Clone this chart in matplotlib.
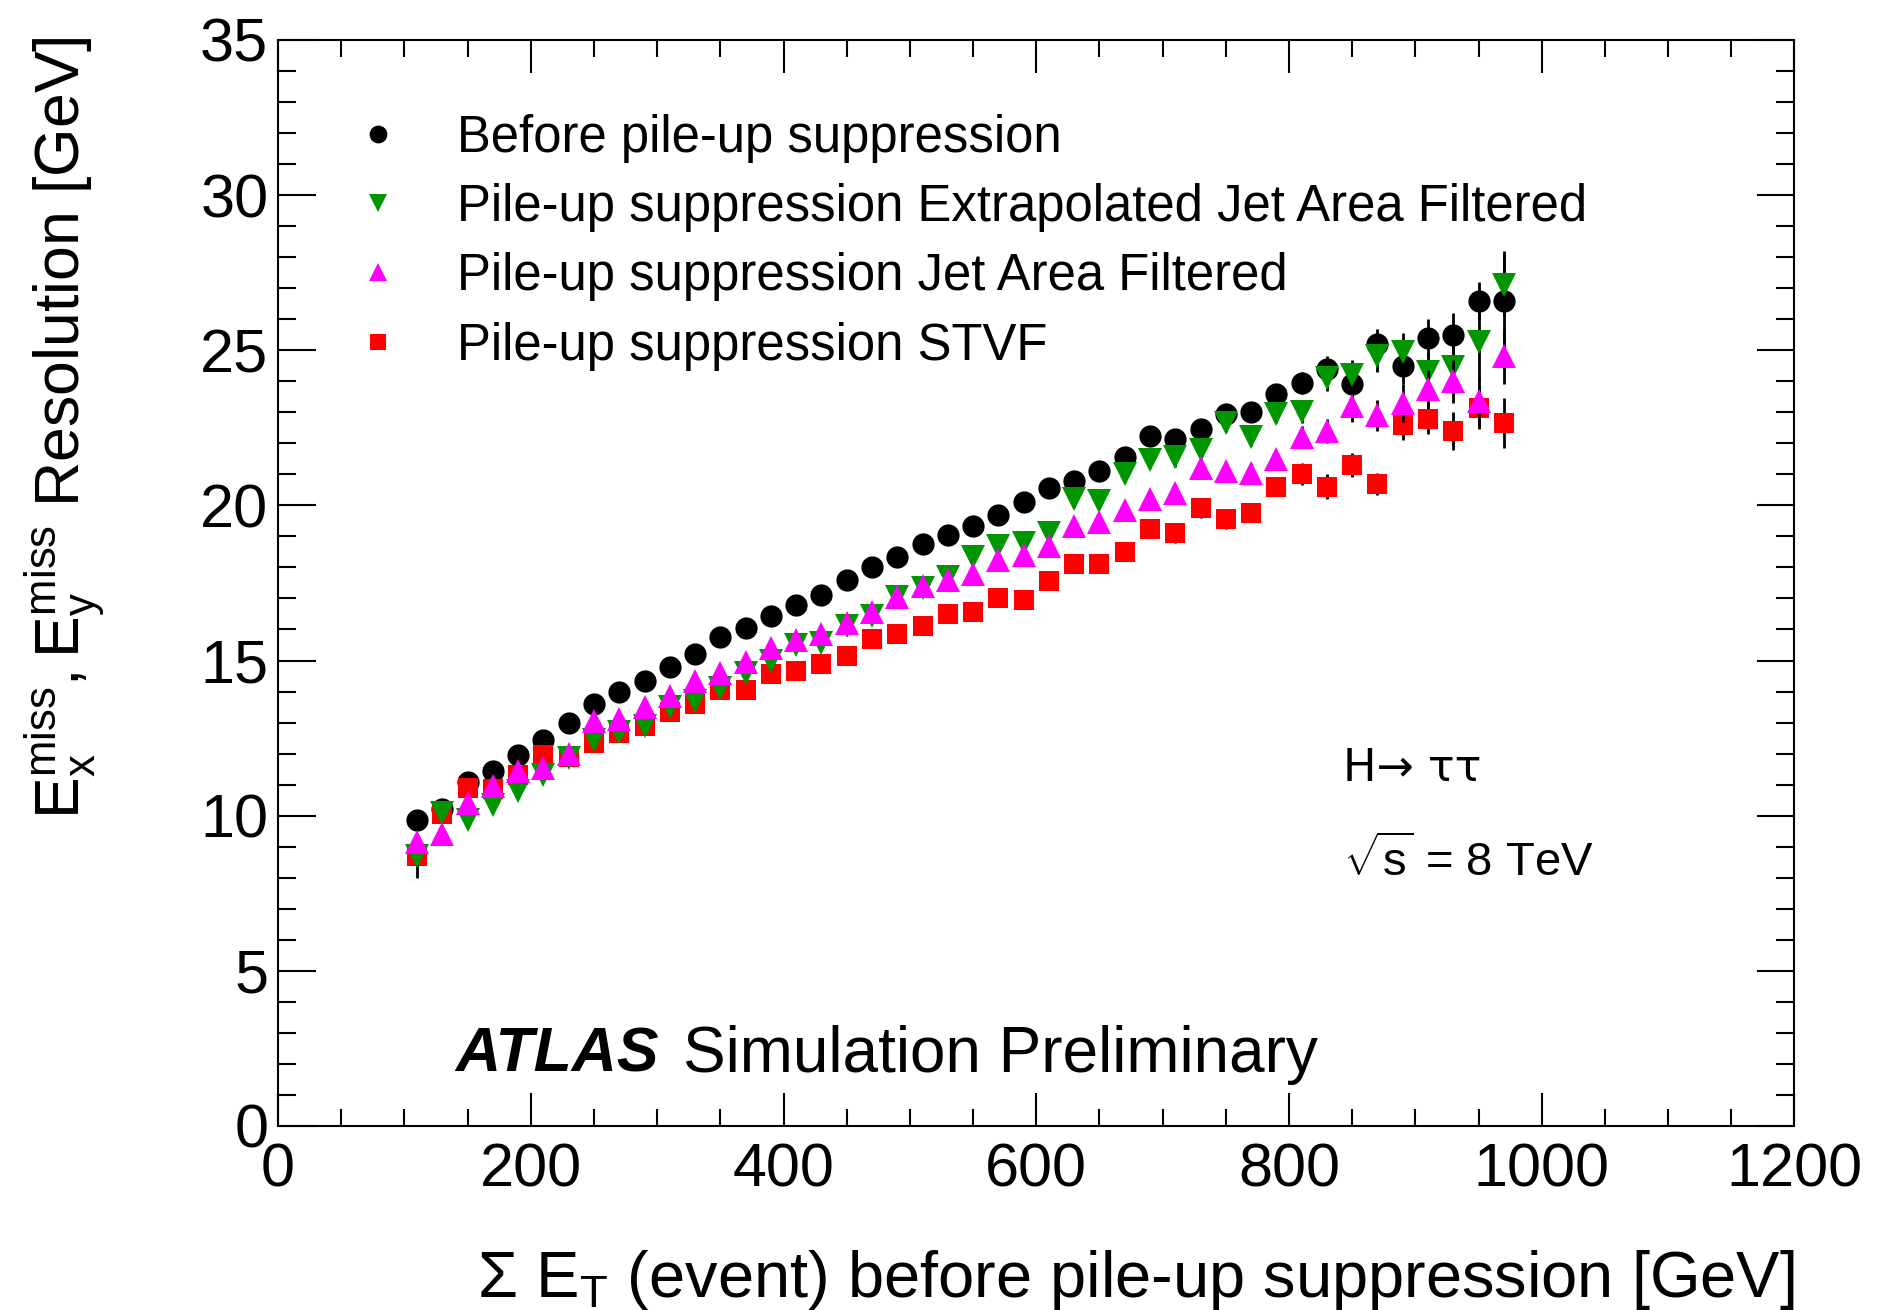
import numpy as np
import matplotlib
matplotlib.use("Agg")
import matplotlib.pyplot as plt
from matplotlib.ticker import MultipleLocator

plt.rcParams['font.family'] = ['Liberation Sans', 'DejaVu Sans']
plt.rcParams['mathtext.fontset'] = 'custom'
plt.rcParams['mathtext.rm'] = 'Liberation Sans'
plt.rcParams['mathtext.it'] = 'Liberation Sans:italic'

# sum ET bin centres [GeV]
sum_et = [110, 130, 150, 170, 190, 210, 230, 250, 270, 290, 310, 330, 350, 370, 390,
          410, 430, 450, 470, 490, 510, 530, 550, 570, 590, 610, 630, 650, 670, 690,
          710, 730, 750, 770, 790, 810, 830, 850, 870, 890, 910, 930, 950, 970]

res_before = [9.85, 10.2, 11.1, 11.45, 11.95, 12.45, 13.0, 13.6, 14.0, 14.35, 14.8, 15.2,
              15.75, 16.05, 16.45, 16.8, 17.1, 17.6, 18.0, 18.35, 18.75, 19.05, 19.35,
              19.7, 20.1, 20.55, 20.8, 21.1, 21.55, 22.25, 22.15, 22.45, 22.95, 23.0,
              23.6, 23.95, 24.4, 23.9, 25.2, 24.5, 25.4, 25.5, 26.6, 26.6]
err_before = [0.3, 0.3, 0.2, 0.2, 0.2, 0.2, 0.2, 0.2, 0.2, 0.2, 0.2, 0.2, 0.2, 0.2, 0.2,
              0.2, 0.2, 0.2, 0.2, 0.2, 0.2, 0.2, 0.2, 0.2, 0.2, 0.2, 0.25, 0.25, 0.25, 0.25,
              0.3, 0.3, 0.3, 0.3, 0.3, 0.35, 0.4, 0.5, 0.5, 0.6, 0.6, 0.7, 0.6, 1.6]

res_extjaf = [8.7, 10.1, 9.85, 10.35, 10.8, 11.3, 11.85, 12.45, 12.7, 12.9, 13.5, 13.7,
              14.1, 14.6, 15.0, 15.5, 15.55, 16.1, 16.45, 17.05, 17.35, 17.7, 18.35,
              18.7, 18.8, 19.1, 20.2, 20.15, 21.0, 21.45, 21.55, 21.8, 22.65, 22.2,
              22.95, 23.0, 24.1, 24.2, 24.8, 24.95, 24.3, 24.45, 25.25, 27.1]
err_extjaf = [0.7, 0.3, 0.2, 0.2, 0.2, 0.2, 0.2, 0.2, 0.2, 0.2, 0.2, 0.2, 0.2, 0.2, 0.2,
              0.2, 0.2, 0.2, 0.2, 0.2, 0.2, 0.2, 0.2, 0.2, 0.2, 0.2, 0.25, 0.25, 0.25, 0.25,
              0.3, 0.3, 0.3, 0.3, 0.3, 0.35, 0.4, 0.5, 0.5, 0.6, 0.6, 0.7, 1.2, 1.0]

res_jaf = [9.15, 9.4, 10.4, 10.95, 11.45, 11.55, 12.0, 13.05, 13.1, 13.5, 13.85, 14.35,
           14.6, 14.95, 15.4, 15.65, 15.85, 16.2, 16.55, 17.05, 17.4, 17.6, 17.8, 18.25,
           18.4, 18.7, 19.35, 19.45, 19.85, 20.2, 20.4, 21.2, 21.1, 21.05, 21.5, 22.2,
           22.4, 23.2, 22.9, 23.3, 23.75, 24.0, 23.35, 24.8]
err_jaf = [0.3, 0.3, 0.2, 0.2, 0.2, 0.2, 0.2, 0.2, 0.2, 0.2, 0.2, 0.2, 0.2, 0.2, 0.2,
           0.2, 0.2, 0.2, 0.2, 0.2, 0.2, 0.2, 0.2, 0.2, 0.2, 0.2, 0.25, 0.25, 0.25, 0.25,
           0.3, 0.3, 0.3, 0.3, 0.3, 0.35, 0.4, 0.5, 0.5, 0.6, 0.6, 0.7, 0.8, 0.9]

res_stvf = [8.7, 10.05, 10.9, 10.85, 11.3, 11.95, 11.9, 12.35, 12.65, 12.9, 13.35, 13.6,
            14.05, 14.05, 14.55, 14.65, 14.9, 15.15, 15.7, 15.85, 16.1, 16.5, 16.55, 17.0,
            16.95, 17.55, 18.1, 18.1, 18.5, 19.25, 19.1, 19.9, 19.55, 19.75, 20.6, 21.0,
            20.6, 21.3, 20.7, 22.6, 22.8, 22.4, 23.15, 22.65]
err_stvf = [0.3, 0.3, 0.2, 0.2, 0.2, 0.2, 0.2, 0.2, 0.2, 0.2, 0.2, 0.2, 0.2, 0.2, 0.2,
            0.2, 0.2, 0.2, 0.2, 0.2, 0.2, 0.2, 0.2, 0.2, 0.2, 0.2, 0.25, 0.25, 0.25, 0.25,
            0.3, 0.3, 0.3, 0.3, 0.3, 0.35, 0.4, 0.4, 0.35, 0.5, 0.5, 0.6, 0.7, 0.8]

fig = plt.figure(figsize=(18.79, 13.10), dpi=100)
ax = fig.add_axes([0.148, 0.1405, 0.807, 0.829])

ms = 16
kw = dict(ls='none', ecolor='black', elinewidth=2.0, capsize=0, markeredgewidth=0)
h_before = ax.errorbar(sum_et, res_before, yerr=err_before, marker='o', color='black',
                       markersize=ms, zorder=2, **kw)
h_stvf = ax.errorbar(sum_et, res_stvf, yerr=err_stvf, marker='s', color='#ff0000',
                     markersize=ms - 1, zorder=3, **kw)
h_extjaf = ax.errorbar(sum_et, res_extjaf, yerr=err_extjaf, marker='v', color='#009600',
                       markersize=ms + 1, zorder=4, **kw)
h_jaf = ax.errorbar(sum_et, res_jaf, yerr=err_jaf, marker='^', color='#ff00ff',
                    markersize=ms + 1, zorder=5, **kw)

ax.set_xlim(0, 1200)
ax.set_ylim(0, 35)
ax.xaxis.set_major_locator(MultipleLocator(200))
ax.xaxis.set_minor_locator(MultipleLocator(50))
ax.yaxis.set_major_locator(MultipleLocator(5))
ax.yaxis.set_minor_locator(MultipleLocator(1))
ax.tick_params(which='both', direction='in', top=True, right=True, width=1.5,
               labelsize=44)
ax.tick_params(axis='x', which='major', length=24, pad=12)
ax.tick_params(axis='x', which='minor', length=12)
ax.tick_params(axis='y', which='major', length=27, pad=7)
ax.tick_params(axis='y', which='minor', length=13)
for s in ax.spines.values():
    s.set_linewidth(1.5)

ax.set_xlabel(r'$\Sigma$ E$_{\mathrm{T}}$ (event) before pile-up suppression [GeV]',
              fontsize=46.8, loc='right')
ax.xaxis.set_label_coords(1.0, -0.112)

fig.text(22 / 1879, 1 - 36 / 1310,
         r'$\mathrm{E}_{\mathrm{x}}^{\mathrm{miss}}\mathrm{,E}_{\mathrm{y}}^{\mathrm{miss}}$ Resolution [GeV]',
         fontsize=45, rotation=90, ha='left', va='top')

leg = ax.legend([h_before[0], h_extjaf[0], h_jaf[0], h_stvf[0]],
                ['Before pile-up suppression',
                 'Pile-up suppression Extrapolated Jet Area Filtered',
                 'Pile-up suppression Jet Area Filtered',
                 'Pile-up suppression STVF'],
                loc='upper left', bbox_to_anchor=(0.036, 0.951), frameon=False,
                fontsize=36.6, markerscale=0.8, handlelength=1.0, handletextpad=1.04,
                labelspacing=0.40, borderaxespad=0)

ax.text(0.702, 0.318, 'H\u2192 \u03c4\u03c4', transform=ax.transAxes,
        fontsize=32, family='DejaVu Sans', ha='left', va='baseline')
ax.text(0.702, 0.229, r'$\sqrt{\mathrm{s}}$ = 8 TeV', transform=ax.transAxes,
        fontsize=34, ha='left', va='baseline')
ax.text(0.117, 0.050, 'ATLAS', transform=ax.transAxes, fontsize=45,
        fontweight='bold', fontstyle='italic', ha='left', va='baseline')
ax.text(0.267, 0.050, 'Simulation Preliminary', transform=ax.transAxes, fontsize=46,
        ha='left', va='baseline')

fig.savefig('out.png', dpi=100)
